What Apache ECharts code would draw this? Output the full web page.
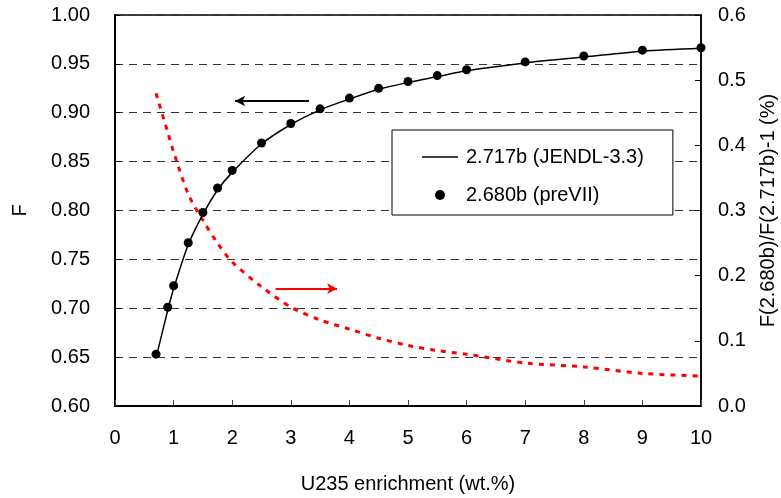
<!DOCTYPE html>
<html>
<head>
<meta charset="utf-8">
<title>F vs U235 enrichment</title>
<script src="https://cdn.jsdelivr.net/npm/echarts@6/dist/echarts.min.js"></script>
<style>
  html, body { margin: 0; padding: 0; background: #fff; }
  #chart { width: 781px; height: 498px; }
</style>
</head>
<body>
<div id="chart"></div>
<script>
// U235 enrichment (wt.%) at which F was evaluated
const enrichment = [0.7, 0.9, 1.0, 1.25, 1.5, 1.75, 2.0, 2.5, 3.0, 3.5, 4.0, 4.5, 5.0, 5.5, 6.0, 7.0, 8.0, 9.0, 10.0];
// F with the 2.717 b value (JENDL-3.3)
const fJendl = [0.649, 0.698, 0.720, 0.765, 0.796, 0.821, 0.839, 0.868, 0.888, 0.903, 0.914, 0.924, 0.931, 0.937, 0.943, 0.951, 0.957, 0.963, 0.966];
// F with the 2.680 b value (preVII)
const fPreVII = [0.653, 0.701, 0.723, 0.767, 0.798, 0.823, 0.841, 0.869, 0.889, 0.904, 0.915, 0.925, 0.932, 0.938, 0.944, 0.952, 0.958, 0.964, 0.9665];
// F(2.680b)/F(2.717b)-1 in percent
const relDiff = [0.480, 0.420, 0.390, 0.325, 0.285, 0.250, 0.221, 0.183, 0.152, 0.132, 0.118, 0.104, 0.093, 0.085, 0.0795, 0.066, 0.060, 0.050, 0.046];

const seriesNames = ['2.717b (JENDL-3.3)', '2.680b (preVII)'];
const xTitle = 'U235 enrichment (wt.%)';
const leftTitle = 'F';
const rightTitle = 'F(2.680b)/F(2.717b)-1 (%)';

// arrows telling which axis each curve belongs to: [x, y] pairs
const arrowToLeft = [[3.31, 0.912], [2.05, 0.912]];
const arrowToRight = [[2.74, 0.18], [3.79, 0.18]];

const FONT = "'Liberation Sans', Arial, sans-serif";

const pair = (xs, ys) => xs.map((x, i) => [x, ys[i]]);

const chart = echarts.init(document.getElementById('chart'), null, { renderer: 'canvas' });

chart.setOption({
  animation: false,
  backgroundColor: '#fff',
  textStyle: { fontFamily: FONT, color: '#000' },
  grid: {
    left: 115, right: 80, top: 15, bottom: 92,
    show: true, borderColor: '#000', borderWidth: 1.5, backgroundColor: '#fff',
    containLabel: false, outerBoundsMode: 'none'
  },
  legend: {
    data: [
      // plain line sample (thin bar) for the solid curve
      { name: seriesNames[0], icon: 'path://M0,0L36,0L36,1.4L0,1.4Z', itemStyle: { color: '#000' } },
      { name: seriesNames[1], icon: 'circle', itemStyle: { color: '#000', opacity: 1 } }
    ],
    orient: 'vertical',
    left: 392, top: 130,
    padding: [17, 29, 10, 30],
    itemWidth: 36, itemHeight: 10, itemGap: 18,
    backgroundColor: '#fff',
    borderColor: '#000', borderWidth: 1, borderRadius: 0,
    textStyle: { fontFamily: FONT, fontSize: 20, color: '#000', padding: [0, 0, 0, 3] },
    selectedMode: false
  },
  xAxis: {
    type: 'value', min: 0, max: 10, interval: 1,
    name: xTitle, nameLocation: 'middle', nameGap: 68,
    nameTextStyle: { fontFamily: FONT, fontSize: 20, color: '#000' },
    axisLine: { show: true, onZero: false, lineStyle: { color: '#000', width: 2 } },
    axisTick: { show: true, inside: true, length: 6, lineStyle: { color: '#444', width: 1 } },
    axisLabel: { fontFamily: FONT, fontSize: 20, color: '#000', margin: 22 },
    splitLine: { show: false }
  },
  yAxis: [
    {
      type: 'value', min: 0.60, max: 1.00, interval: 0.05, position: 'left',
      name: leftTitle, nameLocation: 'middle', nameGap: 85, nameRotate: 90,
      nameTextStyle: { fontFamily: FONT, fontSize: 20, color: '#000' },
      axisLine: { show: true, onZero: false, lineStyle: { color: '#000', width: 2 } },
      axisTick: { show: true, inside: true, length: 5, lineStyle: { color: '#000', width: 1 } },
      axisLabel: { fontFamily: FONT, fontSize: 20, color: '#000', margin: 25,
                   formatter: v => v.toFixed(2) },
      splitLine: { show: true, lineStyle: { color: '#333', width: 1, type: [8, 6] } }
    },
    {
      type: 'value', min: 0, max: 0.6, interval: 0.1, position: 'right',
      name: rightTitle, nameLocation: 'middle', nameGap: 57, nameRotate: 90,
      nameTextStyle: { fontFamily: FONT, fontSize: 20, color: '#000' },
      axisLine: { show: true, onZero: false, lineStyle: { color: '#000', width: 1.5 } },
      axisTick: { show: true, inside: true, length: 6, lineStyle: { color: '#000', width: 1 } },
      axisLabel: { fontFamily: FONT, fontSize: 20, color: '#000', margin: 17,
                   formatter: v => v.toFixed(1) },
      splitLine: { show: false }
    }
  ],
  series: [
    {
      name: seriesNames[0],
      type: 'line',
      yAxisIndex: 0,
      data: pair(enrichment, fJendl),
      smooth: 0.3,
      symbol: 'none',
      lineStyle: { color: '#000', width: 1.5 },
      itemStyle: { color: '#000' },
      z: 3,
      markLine: {
        silent: true,
        symbol: ['none', 'arrow'],
        symbolSize: [8, 10],
        label: { show: false },
        lineStyle: { color: '#000', width: 2, type: 'solid' },
        data: [[{ coord: arrowToLeft[0] }, { coord: arrowToLeft[1] }]]
      }
    },
    {
      name: seriesNames[1],
      type: 'scatter',
      yAxisIndex: 0,
      data: pair(enrichment, fPreVII),
      symbol: 'circle',
      symbolSize: 9,
      itemStyle: { color: '#000', opacity: 1 },
      z: 4
    },
    {
      name: 'ratio',
      type: 'line',
      yAxisIndex: 1,
      data: pair(enrichment, relDiff),
      smooth: 0.3,
      symbol: 'none',
      lineStyle: { color: '#ff0000', width: 3, type: [5, 6] },
      itemStyle: { color: '#ff0000' },
      z: 2,
      markLine: {
        silent: true,
        symbol: ['none', 'arrow'],
        symbolSize: [8, 10],
        label: { show: false },
        lineStyle: { color: '#ff0000', width: 2, type: 'solid' },
        data: [[{ coord: arrowToRight[0] }, { coord: arrowToRight[1] }]]
      }
    }
  ]
});
</script>
</body>
</html>
